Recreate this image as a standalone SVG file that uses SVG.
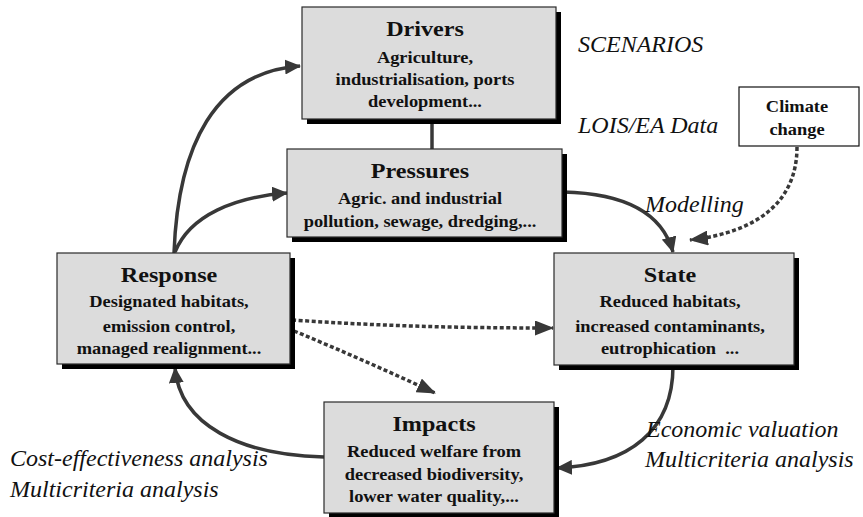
<svg xmlns="http://www.w3.org/2000/svg" width="863" height="517" viewBox="0 0 863 517">
  <defs>
    <style>
      .shadow { fill: #000; }
      .box { fill: #dcdcdc; stroke: #2a2a2a; stroke-width: 1.2; }
      .plain { fill: #fff; stroke: #111; stroke-width: 1.2; }
      .head { font-family: "Liberation Serif", "Times New Roman", serif; font-weight: bold; font-size: 21px; fill: #111; text-anchor: middle; }
      .sub { font-family: "Liberation Serif", "Times New Roman", serif; font-weight: bold; font-size: 16px; fill: #111; text-anchor: middle; }
      .note { font-family: "Liberation Serif", "Times New Roman", serif; font-style: italic; font-size: 24px; fill: #111; }
      .solid { fill: none; stroke: #383838; stroke-width: 3.5; }
      .dotted { fill: none; stroke: #383838; stroke-width: 3.5; stroke-dasharray: 4 2.5; }
    </style>
    <marker id="arrow" markerUnits="userSpaceOnUse" markerWidth="16" markerHeight="15" refX="15" refY="7.5" orient="auto">
      <path d="M0,0 L16,7.5 L0,15 z" fill="#383838"/>
    </marker>
    <marker id="arrowDot" markerUnits="userSpaceOnUse" markerWidth="19" markerHeight="15" refX="18" refY="7.5" orient="auto">
      <path d="M0,0 L19,7.5 L0,15 z" fill="#383838"/>
    </marker>
  </defs>

  <rect width="863" height="517" fill="#fff"/>

  <!-- connectors -->
  <g id="connectors">
    <line class="solid" x1="432" y1="119" x2="432" y2="149"/>
    <path class="solid" d="M174,253 C178,145 215,72 300,66" marker-end="url(#arrow)"/>
    <path class="solid" d="M175,252 C190,215 235,197 287,193" marker-end="url(#arrow)"/>
    <path class="solid" d="M563,192 C610,193 660,205 673,252" marker-end="url(#arrow)"/>
    <path class="dotted" d="M797,147 C797,200 760,232 690,240" marker-end="url(#arrowDot)"/>
    <path class="dotted" d="M292,320 C380,326 460,328 553,328" marker-end="url(#arrowDot)"/>
    <path class="dotted" d="M294,331 C340,350 390,372 435,393" marker-end="url(#arrowDot)"/>
    <path class="solid" d="M673,366 C673,430 630,465 557,468" marker-end="url(#arrow)"/>
    <path class="solid" d="M324,457 C240,455 180,425 175,368" marker-end="url(#arrow)"/>
  </g>

  <!-- Drivers -->
  <g id="drivers">
    <rect class="shadow" x="307" y="12" width="254" height="112"/>
    <rect class="box" x="302" y="7" width="254" height="112"/>
    <g transform="translate(425 0) scale(1.15 1)">
      <text class="head" x="0" y="36">Drivers</text>
      <text class="sub" x="0" y="63">Agriculture,</text>
      <text class="sub" x="0" y="85">industrialisation, ports</text>
      <text class="sub" x="0" y="107">development...</text>
    </g>
  </g>

  <!-- Pressures -->
  <g id="pressures">
    <rect class="shadow" x="292" y="154" width="275" height="88"/>
    <rect class="box" x="287" y="149" width="275" height="88"/>
    <g transform="translate(420 0) scale(1.15 1)">
      <text class="head" x="0" y="178">Pressures</text>
      <text class="sub" x="0" y="204">Agric. and industrial</text>
      <text class="sub" x="0" y="227">pollution, sewage, dredging,...</text>
    </g>
  </g>

  <!-- Response -->
  <g id="response">
    <rect class="shadow" x="62" y="258" width="233" height="111"/>
    <rect class="box" x="57" y="253" width="233" height="111"/>
    <g transform="translate(169 0) scale(1.15 1)">
      <text class="head" x="0" y="282">Response</text>
      <text class="sub" x="0" y="307">Designated habitats,</text>
      <text class="sub" x="0" y="332">emission control,</text>
      <text class="sub" x="0" y="354">managed realignment...</text>
    </g>
  </g>

  <!-- State -->
  <g id="state">
    <rect class="shadow" x="559" y="258" width="240" height="112"/>
    <rect class="box" x="554" y="253" width="240" height="112"/>
    <g transform="translate(670 0) scale(1.15 1)">
      <text class="head" x="0" y="282">State</text>
      <text class="sub" x="0" y="307">Reduced habitats,</text>
      <text class="sub" x="0" y="332">increased contaminants,</text>
      <text class="sub" x="0" y="354" xml:space="preserve">eutrophication  ...</text>
    </g>
  </g>

  <!-- Impacts -->
  <g id="impacts">
    <rect class="shadow" x="329" y="407" width="230" height="111"/>
    <rect class="box" x="324" y="402" width="230" height="111"/>
    <g transform="translate(434 0) scale(1.15 1)">
      <text class="head" x="0" y="431">Impacts</text>
      <text class="sub" x="0" y="457">Reduced welfare from</text>
      <text class="sub" x="0" y="480">decreased biodiversity,</text>
      <text class="sub" x="0" y="502">lower water quality,...</text>
    </g>
  </g>

  <!-- Climate change -->
  <g id="climate-change">
    <rect class="plain" x="739" y="87" width="120" height="59"/>
    <g transform="translate(797 0) scale(1.15 1)">
      <text class="sub" x="0" y="112">Climate</text>
      <text class="sub" x="0" y="135">change</text>
    </g>
  </g>

  <!-- method / data annotations -->
  <g id="annotations">
    <text class="note" x="578" y="52">SCENARIOS</text>
    <text class="note" x="578" y="133">LOIS/EA Data</text>
    <text class="note" x="645" y="212">Modelling</text>
    <text class="note" x="646" y="437">Economic valuation</text>
    <text class="note" x="645" y="467">Multicriteria analysis</text>
    <text class="note" x="10" y="466">Cost-effectiveness analysis</text>
    <text class="note" x="10" y="497">Multicriteria analysis</text>
  </g>
</svg>
